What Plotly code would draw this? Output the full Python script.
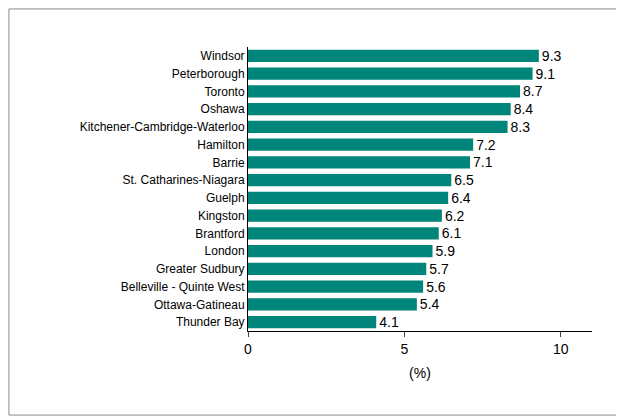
import plotly.graph_objects as go

cities = ["Windsor", "Peterborough", "Toronto", "Oshawa", "Kitchener-Cambridge-Waterloo",
          "Hamilton", "Barrie", "St. Catharines-Niagara", "Guelph", "Kingston", "Brantford",
          "London", "Greater Sudbury", "Belleville - Quinte West", "Ottawa-Gatineau", "Thunder Bay"]
rates = [9.3, 9.1, 8.7, 8.4, 8.3, 7.2, 7.1, 6.5, 6.4, 6.2, 6.1, 5.9, 5.7, 5.6, 5.4, 4.1]

fig = go.Figure(go.Bar(
    x=rates, y=cities, orientation="h",
    marker=dict(color="#00857A", line=dict(width=0)),
    text=[f"{v:.1f}" for v in rates], textposition="outside",
    constraintext="none",
    textfont=dict(size=14, color="black"), cliponaxis=False,
))

fig.update_layout(
    width=616, height=410,
    margin=dict(l=240, r=32, t=39, b=87),
    plot_bgcolor="white", paper_bgcolor="white",
    font=dict(family="Liberation Sans, Arial", color="black"),
    bargap=0.3, showlegend=False,
    shapes=[dict(type="rect", xref="paper", yref="paper",
                 x0=-0.695, x1=1.087, y0=-0.296, y1=1.134,
                 line=dict(color="#8c8c8c", width=1))],
)
fig.update_xaxes(range=[0, 11], tickvals=[0, 5, 10], showgrid=False,
                 showline=True, linecolor="black", ticks="outside", ticklen=5,
                 tickfont=dict(size=14), title=dict(text="(%)", font=dict(size=14), standoff=12),
                 zeroline=False)
fig.update_yaxes(autorange="reversed", showline=True, linecolor="black",
                 ticks="", tickfont=dict(size=12), showgrid=False)

fig.write_html("out.html")
